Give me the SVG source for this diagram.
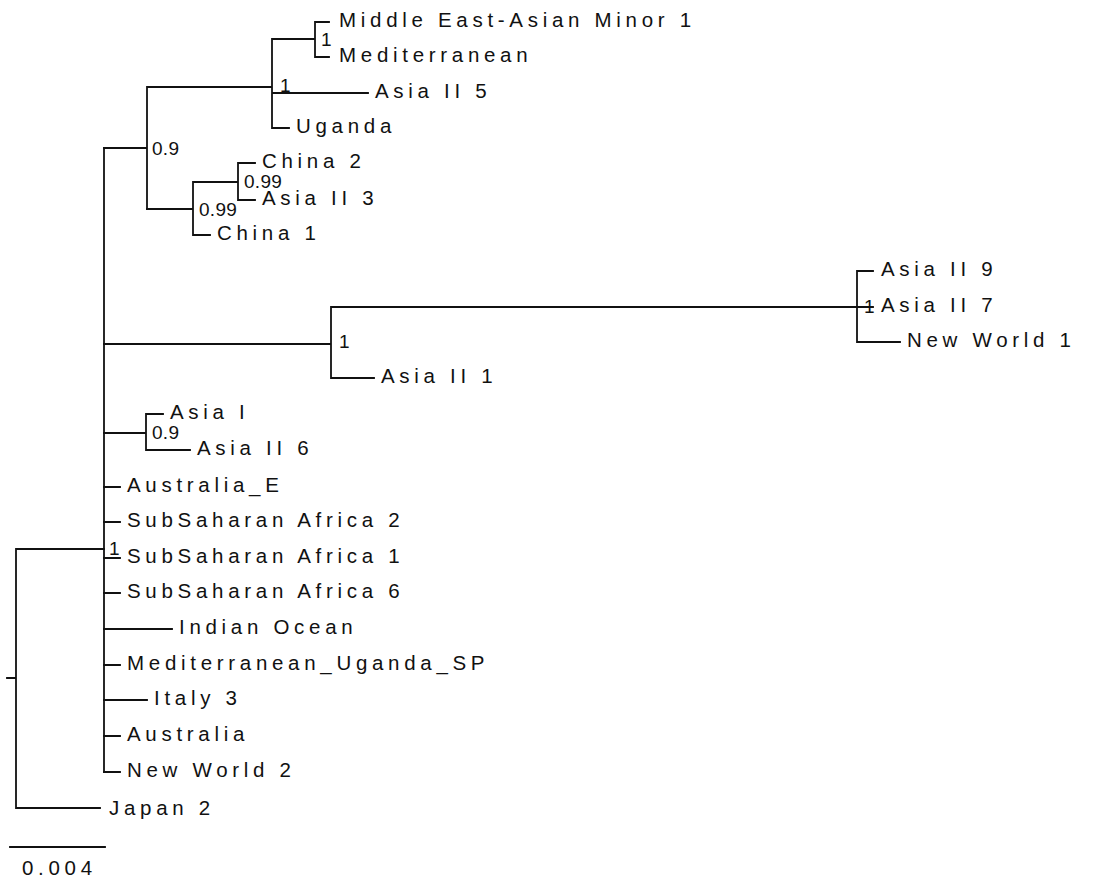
<svg xmlns="http://www.w3.org/2000/svg" width="1094" height="884" viewBox="0 0 1094 884">
<style>
.b{fill:none;stroke:#111;stroke-width:1.8;stroke-linecap:square}
.t{font-family:"Liberation Sans",Arial,sans-serif;font-size:20.5px;letter-spacing:4.7px;fill:#111}
.s{font-family:"Liberation Sans",Arial,sans-serif;font-size:19px;letter-spacing:0.3px;fill:#111}
</style>
<rect width="1094" height="884" fill="#fff"/>
<g id="connectors">
<path class="b" d="M7,678H16M16,549V808M16,549H104M16,808H100"/>
<path class="b" d="M104,148V772"/>
<path class="b" d="M104,148H147M147,87V209M147,87H272M272,39V128M272,39H315M315,22V57M315,22H329M315,57H329M272,93H368M272,128H289"/>
<path class="b" d="M147,209H193M193,182V235M193,182H238M238,163V200M238,163H255M238,200H255M193,235H210"/>
<path class="b" d="M104,344H331M331,307V378M331,307H857M857,271V342M857,271H873M857,307H873M857,342H900M331,378H374"/>
<path class="b" d="M104,433H146M146,414V450M146,414H163M146,450H190"/>
<path class="b" d="M104,487H120M104,522H120M104,558H120M104,593H120M104,629H172M104,665H120M104,700H147M104,736H120M104,772H120"/>
</g>
<g id="n_mea1"><text class="t" x="339" y="27">Middle East-Asian Minor 1</text></g>
<g id="n_med"><text class="t" x="339" y="62">Mediterranean</text></g>
<g id="n_asia2_5"><text class="t" x="375" y="98">Asia II 5</text></g>
<g id="n_uganda"><text class="t" x="296" y="133">Uganda</text></g>
<g id="n_china2"><text class="t" x="262" y="168">China 2</text></g>
<g id="n_asia2_3"><text class="t" x="262" y="205">Asia II 3</text></g>
<g id="n_china1"><text class="t" x="217" y="240">China 1</text></g>
<g id="n_asia2_9"><text class="t" x="881" y="276">Asia II 9</text></g>
<g id="n_asia2_7"><text class="t" x="881" y="312">Asia II 7</text></g>
<g id="n_nw1"><text class="t" x="907" y="347">New World 1</text></g>
<g id="n_asia2_1"><text class="t" x="381" y="383">Asia II 1</text></g>
<g id="n_asia1"><text class="t" x="170" y="419">Asia I</text></g>
<g id="n_asia2_6"><text class="t" x="197" y="455">Asia II 6</text></g>
<g id="n_aus_e"><text class="t" x="127" y="492">Australia_E</text></g>
<g id="n_ssa2"><text class="t" x="127" y="527">SubSaharan Africa 2</text></g>
<g id="n_ssa1"><text class="t" x="127" y="563">SubSaharan Africa 1</text></g>
<g id="n_ssa6"><text class="t" x="127" y="598">SubSaharan Africa 6</text></g>
<g id="n_io"><text class="t" x="179" y="634">Indian Ocean</text></g>
<g id="n_mus"><text class="t" x="127" y="670">Mediterranean_Uganda_SP</text></g>
<g id="n_italy3"><text class="t" x="154" y="705">Italy 3</text></g>
<g id="n_aus"><text class="t" x="127" y="741">Australia</text></g>
<g id="n_nw2"><text class="t" x="127" y="777">New World 2</text></g>
<g id="n_japan2"><text class="t" x="109" y="815">Japan 2</text></g>
<g id="i_1a"><text class="s" x="321" y="46">1</text></g>
<g id="i_1b"><text class="s" x="280" y="92">1</text></g>
<g id="i_09a"><text class="s" x="152" y="155">0.9</text></g>
<g id="i_099a"><text class="s" x="244" y="188">0.99</text></g>
<g id="i_099b"><text class="s" x="199" y="216">0.99</text></g>
<g id="i_1c"><text class="s" x="339" y="348">1</text></g>
<g id="i_1d"><text class="s" x="864" y="313">1</text></g>
<g id="i_09b"><text class="s" x="152" y="439">0.9</text></g>
<g id="i_1e"><text class="s" x="109" y="555">1</text></g>
<g id="scale">
<path class="b" d="M10,847H105"/>
<text class="t" x="22" y="875" letter-spacing="4">0.004</text>
</g>
</svg>
